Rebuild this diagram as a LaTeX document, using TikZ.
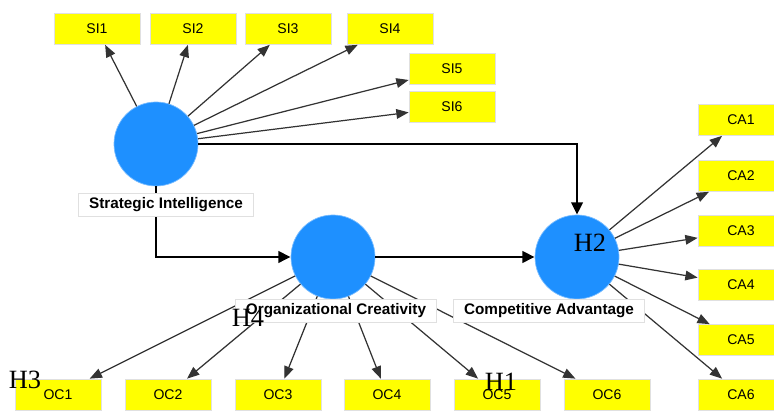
\documentclass[tikz,border=0pt]{standalone}
\usepackage{fontspec}
\setmainfont{Liberation Sans}
\newfontfamily\hfont{Liberation Serif}
\usetikzlibrary{arrows.meta}

\definecolor{lvblue}{RGB}{30,144,255}
\definecolor{indyellow}{RGB}{255,255,0}

\tikzset{
	latent/.style={circle, fill=lvblue, draw=lvblue!60, minimum size=1.68cm, inner sep=0pt},
	indbox/.style={rectangle, fill=indyellow, draw=black!12, minimum width=1.72cm, minimum height=0.62cm, inner sep=0pt, font=\fontsize{8}{9}\selectfont},
	lvlabel/.style={rectangle, fill=white, draw=black!12, inner xsep=6pt, inner ysep=0pt, minimum height=0.46cm, font=\fontsize{8.7}{10}\selectfont\bfseries},
	ind/.style={draw=black!80, line width=0.7pt, -{Triangle[length=7pt,width=5.5pt]}},
	structpath/.style={draw=black, line width=1.4pt, -{Triangle[length=7pt,width=6.5pt]}},
	hyp/.style={inner sep=0pt, font=\hfont\fontsize{15}{16}\selectfont}
}

\begin{document}
\begin{tikzpicture}
				\useasboundingbox (0,0) rectangle (15.48,8.2);

				\node[latent] (si) at (3.12,5.32) {};
				\node[latent] (oc) at (6.66,3.06) {};
				\node[latent] (ca) at (11.54,3.06) {};

				\foreach \i/\x/\y in {1/1.94/7.62, 2/3.86/7.62, 3/5.76/7.62, 4/7.80/7.62, 5/9.04/6.82, 6/9.04/6.06}
				\node[indbox] (si\i) at (\x,\y) {SI\i};
				\foreach \i/\y in {1/5.80, 2/4.68, 3/3.58, 4/2.50, 5/1.40, 6/0.31}
				\node[indbox] (ca\i) at (14.82,\y) {CA\i};
				\foreach \i/\x in {1/1.16, 2/3.36, 3/5.56, 4/7.74, 5/9.94, 6/12.14}
				\node[indbox] (oc\i) at (\x,0.31) {OC\i};

				\foreach \i in {1,...,6} {
					\draw[ind] (si) -- (si\i);
					\draw[ind] (oc) -- (oc\i);
					\draw[ind] (ca) -- (ca\i);
				}

				\draw[structpath] (si) -| (ca);
				\draw[structpath] (si) |- (oc);
				\draw[structpath] (oc) -- (ca);

				\node[lvlabel] (silab) at (3.32,4.10) {Strategic Intelligence};
				\node[lvlabel] (oclab) at (6.72,1.98) {Organizational Creativity};
				\node[lvlabel] (calab) at (10.98,1.98) {Competitive Advantage};

				\node[hyp] (h1) at (10.02,0.56) {H1};
				\node[hyp] (h2) at (11.80,3.34) {H2};
				\node[hyp] (h3) at (0.50,0.60) {H3};
				\node[hyp] (h4) at (4.96,1.84) {H4};

			\end{tikzpicture}
\end{document}
